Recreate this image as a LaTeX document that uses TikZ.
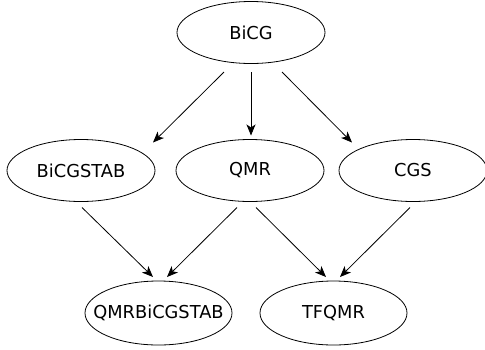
\documentclass[tikz,border=0pt]{standalone}
\usepackage{fontspec}
\setmainfont{DejaVu Sans}
\usetikzlibrary{shapes.geometric,arrows.meta,calc}
\tikzset{
  ell/.style={draw, ellipse, line width=0.8pt, inner sep=0pt, minimum width=148pt, minimum height=62pt, font=\fontsize{17.8}{20}\selectfont},
  edge/.style={line width=0.8pt, -{Stealth[length=11pt,width=9pt,inset=3pt]}}
}
\begin{document}
\begin{tikzpicture}[x=1pt,y=-1pt]
\useasboundingbox (0,0) rectangle (485,349);
\node[ell] (bicg) at (251,32.5) {\makebox[0pt]{BiCG}};
\node[ell] (bicgstab) at (81,170.5) {\makebox[0pt]{BiCGSTAB}};
\node[ell] (qmr) at (250,170.5) {\makebox[0pt]{QMR}};
\node[ell] (cgs) at (413,170.5) {\makebox[0pt]{CGS}};
\node[ell, minimum width=147pt, minimum height=64pt] (qmrb) at (158.5,313) {\makebox[0pt]{QMRBiCGSTAB}};
\node[ell, minimum width=147pt, minimum height=64pt] (tfqmr) at (333.5,313) {\makebox[0pt]{TFQMR}};
\draw[edge] ($(bicg)+(-27,39.5)$) -- ($(bicgstab)+(72,-28)$);
\draw[edge] ($(bicg)+(0,39.5)$) -- ($(qmr)+(1,-35)$);
\draw[edge] ($(bicg)+(31,39.5)$) -- ($(cgs)+(-61,-28)$);
\draw[edge] ($(bicgstab)+(1,37)$) -- ($(qmrb)+(-5.5,-36)$);
\draw[edge] ($(qmr)+(-13,37)$) -- ($(qmrb)+(8.5,-36)$);
\draw[edge] ($(qmr)+(6,37)$) -- ($(tfqmr)+(-7.5,-36)$);
\draw[edge] ($(cgs)+(-3,37)$) -- ($(tfqmr)+(6.5,-36)$);
\end{tikzpicture}
\end{document}
